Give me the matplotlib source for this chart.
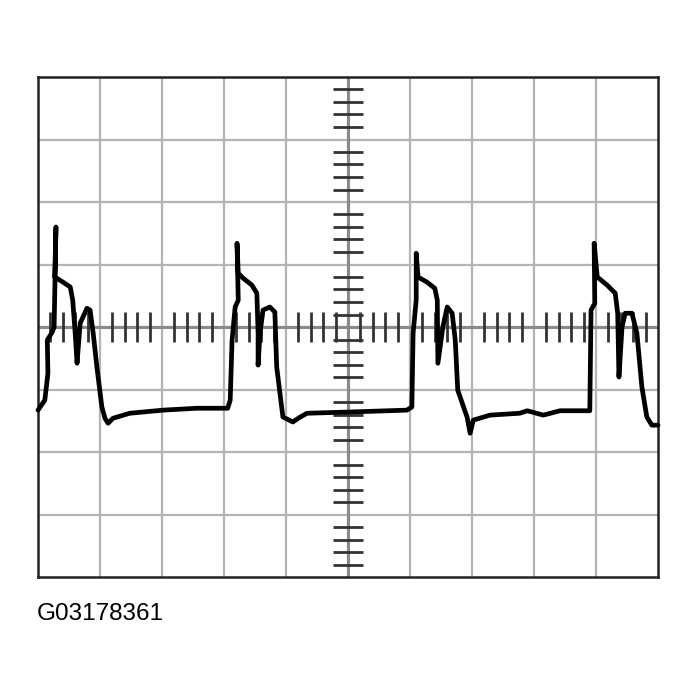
import matplotlib.pyplot as plt
import numpy as np

# trace, in scope divisions (x: 0..10, y: -4..4)
t_div = [0.00, 0.11, 0.16, 0.15, 0.23, 0.26, 0.29, 0.27, 0.40, 0.52, 0.56, 0.60, 0.63, 0.68,
         0.79, 0.84, 0.89, 0.95, 1.03, 1.08, 1.13, 1.21, 1.48, 2.02, 2.56, 3.06, 3.10, 3.13,
         3.18, 3.23, 3.21, 3.23, 3.31, 3.45, 3.53, 3.55, 3.55, 3.58, 3.63, 3.74, 3.82, 3.85,
         3.95, 4.11, 4.23, 4.34, 5.03, 5.95, 6.03, 6.05, 6.10, 6.10, 6.13, 6.27, 6.40, 6.44,
         6.45, 6.53, 6.60, 6.68, 6.73, 6.77, 6.92, 6.97, 7.02, 7.29, 7.77, 7.89, 8.15, 8.42,
         8.90, 8.92, 8.98, 8.97, 9.02, 9.18, 9.31, 9.35, 9.37, 9.42, 9.47, 9.58, 9.66, 9.74,
         9.82, 9.90, 10.00]
v_div = [-1.33, -1.17, -0.74, -0.21, -0.08, 0.00, 1.60, 0.80, 0.72, 0.64, 0.43, -0.10, -0.58,
         0.06, 0.30, 0.27, -0.10, -0.64, -1.28, -1.46, -1.54, -1.46, -1.38, -1.33, -1.30,
         -1.30, -1.17, -0.21, 0.32, 0.43, 1.34, 0.86, 0.78, 0.67, 0.54, -0.10, -0.61, -0.10,
         0.27, 0.32, 0.24, -0.64, -1.44, -1.52, -1.44, -1.38, -1.36, -1.33, -1.28, -0.10,
         0.43, 1.18, 0.80, 0.72, 0.62, 0.43, -0.58, 0.00, 0.32, 0.22, -0.21, -1.01, -1.44,
         -1.70, -1.49, -1.41, -1.38, -1.34, -1.41, -1.34, -1.34, 0.27, 0.38, 1.34, 0.80,
         0.67, 0.54, 0.22, -0.80, 0.00, 0.22, 0.22, -0.10, -0.96, -1.44, -1.57, -1.57]

label = "G03178361"

fig = plt.figure(figsize=(6.97, 6.99), dpi=100)
ax = fig.add_axes([38/697, 122/699, 620/697, 500/699])
ax.set_xlim(0, 10)
ax.set_ylim(-4, 4)

# graticule
for gx in range(1, 10):
    ax.axvline(gx, color="#b4b4b4", lw=1.6, zorder=1)
for gy in range(-3, 4):
    ax.axhline(gy, color="#b4b4b4", lw=1.6, zorder=1)
ax.axvline(5, color="#8a8a8a", lw=2.2, zorder=2)
ax.axhline(0, color="#8a8a8a", lw=2.2, zorder=2)

# minor ticks on the centre axes
xt = [i * 0.2 for i in range(1, 50) if i % 5 != 0]
yt = [-4 + i * 0.2 for i in range(1, 40) if i % 5 != 0]
ax.plot(xt, np.zeros(len(xt)), ls="none", marker="|", ms=21, mew=2, color="#333333", zorder=3)
ax.plot(np.full(len(yt), 5.0), yt, ls="none", marker="_", ms=21, mew=2, color="#333333", zorder=3)

ax.plot(t_div, v_div, color="black", lw=3.4, solid_joinstyle="round",
        solid_capstyle="round", zorder=4, clip_on=False)

ax.set_xticks([])
ax.set_yticks([])
for s in ax.spines.values():
    s.set_linewidth(1.8)
    s.set_color("#222222")

fig.text(37/697, 1 - 614/699, label, fontsize=17.5, family="Liberation Sans",
         ha="left", va="center")

fig.savefig("out.png", dpi=100, facecolor="white")
